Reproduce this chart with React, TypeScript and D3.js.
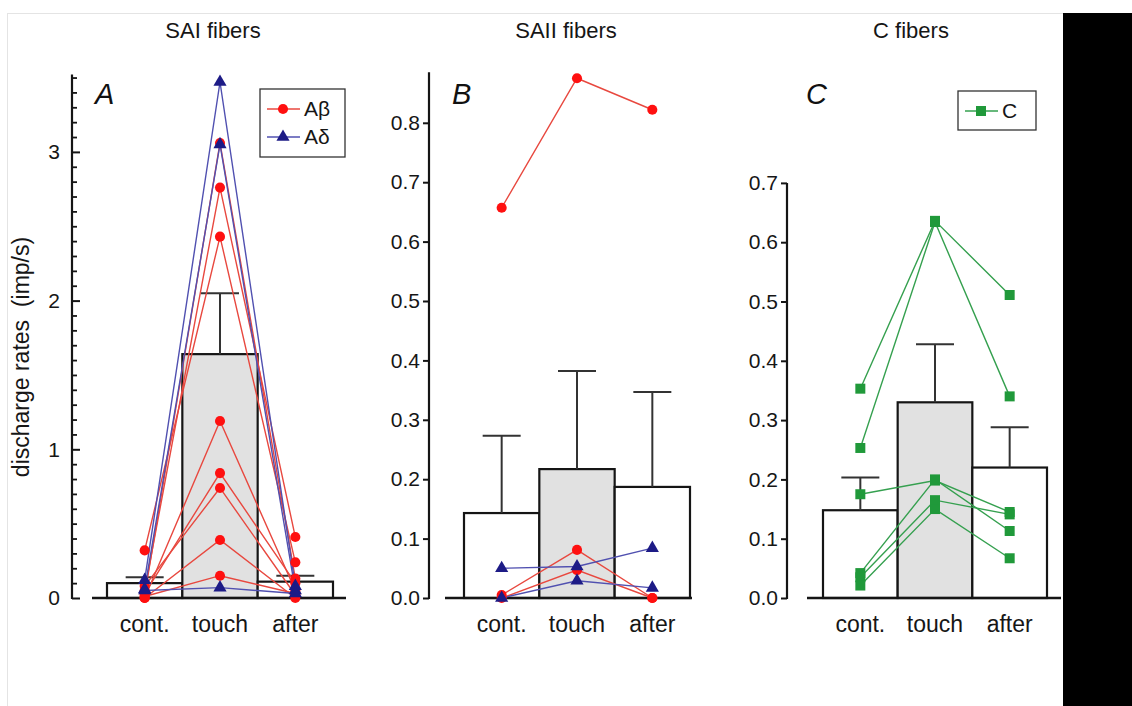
import React, { useEffect, useRef } from 'react'
import * as d3 from 'd3'

const categories = ["cont.", "touch", "after"];

// SAI fibers (panel A)
const saiMeans = [0.10, 1.64, 0.11];
const saiSem = [0.04, 0.41, 0.04];
const saiAbeta = [
    [0.02, 3.06, 0.13],
    [0.05, 2.76, 0.41],
    [0.32, 2.43, 0.24],
    [0.00, 1.19, 0.05],
    [0.03, 0.84, 0.10],
    [0.08, 0.74, 0.02],
    [0.00, 0.39, 0.00],
    [0.01, 0.15, 0.03],
];
const saiAdelta = [
    [0.12, 3.47, 0.08],
    [0.06, 3.05, 0.05],
    [0.05, 0.07, 0.03],
];

// SAII fibers (panel B)
const saiiMeans = [0.143, 0.217, 0.187];
const saiiSem = [0.130, 0.165, 0.160];
const saiiAbeta = [
    [0.657, 0.875, 0.822],
    [0.005, 0.081, 0.000],
    [0.000, 0.047, 0.000],
];
const saiiAdelta = [
    [0.050, 0.053, 0.084],
    [0.000, 0.029, 0.017],
];

// C fibers (panel C)
const cMeans = [0.148, 0.330, 0.220];
const cSem = [0.055, 0.098, 0.068];
const cUnits = [
    [0.353, 0.636, 0.511],
    [0.253, 0.634, 0.340],
    [0.175, 0.198, 0.145],
    [0.042, 0.200, 0.113],
    [0.035, 0.165, 0.141],
    [0.021, 0.150, 0.067],
];

const RED = "#ff1010";
const RED_LINE = "#e8483f";
const BLUE = "#1d1b86";
const BLUE_LINE = "#5050b0";
const GREEN = "#20993a";
const GREEN_LINE = "#35a04f";
const FONT = "'Liberation Sans', Arial, Helvetica, sans-serif";
const INK = "#161616";

const drawPanel = (svg, p) => {
    const g = svg.append("g");

    const x = d3.scaleBand().domain(categories).range([p.barX0, p.barX1]).padding(0);
    const y = d3.scaleLinear().domain([0, p.yTop]).range([p.baseY, p.yTopPx]);
    const cx = (c) => x(c) + x.bandwidth() / 2;

    // title
    svg.append("text")
        .attr("x", p.titleX).attr("y", 38)
        .attr("text-anchor", "middle")
        .attr("font-family", FONT).attr("font-size", 22)
        .attr("fill", INK)
        .text(p.title);

    // bars
    g.selectAll(".bar")
        .data(p.means)
        .join("rect")
        .attr("x", (d, i) => x(categories[i]))
        .attr("y", d => y(d))
        .attr("width", x.bandwidth())
        .attr("height", d => p.baseY - y(d))
        .attr("fill", (d, i) => i === 1 ? "#e1e1e1" : "#ffffff")
        .attr("stroke", "#151515")
        .attr("stroke-width", 2.2);

    // error bars
    p.means.forEach((m, i) => {
        const c = cx(categories[i]);
        g.append("line")
            .attr("x1", c).attr("x2", c)
            .attr("y1", y(m)).attr("y2", y(m + p.sem[i]))
            .attr("stroke", "#333").attr("stroke-width", 2);
        g.append("line")
            .attr("x1", c - 19).attr("x2", c + 19)
            .attr("y1", y(m + p.sem[i])).attr("y2", y(m + p.sem[i]))
            .attr("stroke", "#333").attr("stroke-width", 2);
    });

    // baseline
    g.append("line")
        .attr("x1", p.baseX0).attr("x2", p.baseX1)
        .attr("y1", p.baseY).attr("y2", p.baseY)
        .attr("stroke", "#151515").attr("stroke-width", 2.5);

    // y axis
    const axis = d3.axisLeft(y)
        .tickValues(p.ticks)
        .tickFormat(p.format)
        .tickSizeInner(p.tickSize)
        .tickSizeOuter(0)
        .tickPadding(p.tickPadding);
    const ag = g.append("g")
        .attr("transform", `translate(${p.axisX},0)`)
        .call(axis);
    ag.select(".domain").remove();
    ag.selectAll("line").attr("stroke", "#151515").attr("stroke-width", 2);
    ag.selectAll("text")
        .attr("font-family", FONT).attr("font-size", 21)
        .attr("fill", INK);

    if (p.minor) {
        const minorAxis = d3.axisLeft(y)
            .tickValues(p.minor)
            .tickFormat("")
            .tickSizeInner(-5)
            .tickSizeOuter(0);
        const mg = g.append("g")
            .attr("transform", `translate(${p.axisX},0)`)
            .call(minorAxis);
        mg.select(".domain").remove();
        mg.selectAll("line").attr("stroke", "#151515").attr("stroke-width", 1.8);
    }

    g.append("line")
        .attr("x1", p.axisX).attr("x2", p.axisX)
        .attr("y1", p.baseY + 1).attr("y2", y(p.axisMax))
        .attr("stroke", "#151515").attr("stroke-width", 2.2);

    // x category labels
    g.selectAll(".cat")
        .data(categories)
        .join("text")
        .attr("x", d => cx(d))
        .attr("y", 632)
        .attr("text-anchor", "middle")
        .attr("font-family", FONT).attr("font-size", 23)
        .attr("fill", INK)
        .text(d => d);

    // panel letter
    g.append("text")
        .attr("x", p.letterX).attr("y", 104)
        .attr("font-family", FONT).attr("font-size", 29)
        .attr("font-style", "italic")
        .attr("fill", "#111")
        .text(p.letter);

    // individual units
    const line = d3.line()
        .x((d, i) => cx(categories[i]))
        .y(d => y(d));

    p.series.forEach(s => {
        g.selectAll(null)
            .data(s.units)
            .join("path")
            .attr("d", d => line(d))
            .attr("fill", "none")
            .attr("stroke", s.lineColor)
            .attr("stroke-width", 1.4);
    });
    p.series.forEach(s => {
        const sym = d3.symbol().type(s.shape).size(s.size);
        s.units.forEach(u => {
            g.selectAll(null)
                .data(u)
                .join("path")
                .attr("d", sym())
                .attr("transform", (d, i) => `translate(${cx(categories[i])},${y(d)})`)
                .attr("fill", s.color);
        });
    });
};

const drawLegend = (svg, box, items) => {
    const g = svg.append("g");
    g.append("rect")
        .attr("x", box.x).attr("y", box.y)
        .attr("width", box.w).attr("height", box.h)
        .attr("fill", "#fff")
        .attr("stroke", "#333").attr("stroke-width", 1.3);
    items.forEach((it, i) => {
        const yy = box.y + 20 + i * 28;
        g.append("line")
            .attr("x1", box.x + 7).attr("x2", box.x + 40)
            .attr("y1", yy).attr("y2", yy)
            .attr("stroke", it.lineColor).attr("stroke-width", 1.4);
        g.append("path")
            .attr("d", d3.symbol().type(it.shape).size(it.size)())
            .attr("transform", `translate(${box.x + 23},${yy})`)
            .attr("fill", it.color);
        g.append("text")
            .attr("x", box.x + 44).attr("y", yy + 7)
            .attr("font-family", FONT).attr("font-size", 21)
            .attr("fill", INK)
            .text(it.label);
    });
};

export default function App() {
    const ref = useRef(null);

    useEffect(() => {
        document.body.style.margin = "0";
        const svg = d3.select(ref.current);
        svg.selectAll("*").remove();

        // frame
        svg.append("rect")
            .attr("x", 7.5).attr("y", 13.5)
            .attr("width", 1070).attr("height", 700)
            .attr("fill", "#fff")
            .attr("stroke", "#e4e4e4").attr("stroke-width", 1);
        svg.append("rect")
            .attr("x", 1063).attr("y", 13)
            .attr("width", 69).attr("height", 693)
            .attr("fill", "#000");

        const abeta = { color: RED, lineColor: RED_LINE, shape: d3.symbolCircle, size: 80 };
        const adelta = { color: BLUE, lineColor: BLUE_LINE, shape: d3.symbolTriangle, size: 75 };
        const cfib = { color: GREEN, lineColor: GREEN_LINE, shape: d3.symbolSquare, size: 100 };

        drawPanel(svg, {
            title: "SAI fibers", titleX: 213, letter: "A", letterX: 95,
            barX0: 107, barX1: 333, baseX0: 92, baseX1: 346, baseY: 598,
            yTop: 3.5, yTopPx: 598 - 3.5 * 148.7, axisMax: 3.52, axisX: 72,
            means: saiMeans, sem: saiSem,
            ticks: [0, 1, 2, 3], format: d3.format("d"),
            minor: d3.range(1, 36).filter(i => i % 10 !== 0).map(i => i / 10),
            tickSize: -8, tickPadding: 12,
            series: [{ ...abeta, units: saiAbeta }, { ...adelta, units: saiAdelta }],
        });

        drawPanel(svg, {
            title: "SAII fibers", titleX: 566, letter: "B", letterX: 452,
            barX0: 464, barX1: 690, baseX0: 445, baseX1: 692, baseY: 598,
            yTop: 0.8, yTopPx: 598 - 8 * 59.4, axisMax: 0.885, axisX: 429,
            means: saiiMeans, sem: saiiSem,
            ticks: d3.range(0, 9).map(i => i / 10), format: d3.format(".1f"),
            tickSize: 6, tickPadding: 3,
            series: [{ ...abeta, units: saiiAbeta }, { ...adelta, units: saiiAdelta }],
        });

        drawPanel(svg, {
            title: "C fibers", titleX: 911, letter: "C", letterX: 806,
            barX0: 823, barX1: 1047, baseX0: 807, baseX1: 1061, baseY: 598,
            yTop: 0.7, yTopPx: 598 - 7 * 59.3, axisMax: 0.7, axisX: 787,
            means: cMeans, sem: cSem,
            ticks: d3.range(0, 8).map(i => i / 10), format: d3.format(".1f"),
            tickSize: 6, tickPadding: 3,
            series: [{ ...cfib, units: cUnits }],
        });

        drawLegend(svg, { x: 260, y: 89, w: 85, h: 68 }, [
            { ...abeta, label: "Aβ" },
            { ...adelta, label: "Aδ" },
        ]);
        drawLegend(svg, { x: 958, y: 91, w: 78, h: 39 }, [
            { ...cfib, label: "C" },
        ]);

        // y axis title
        svg.append("text")
            .attr("transform", "translate(29,357) rotate(-90)")
            .attr("text-anchor", "middle")
            .attr("font-family", FONT).attr("font-size", 23)
            .attr("fill", INK)
            .attr("xml:space", "preserve")
            .text("discharge rates  (imp/s)");
    }, []);

    return (
        <svg ref={ref} width={1132} height={706} style={{ display: "block" }}></svg>
    )
}
